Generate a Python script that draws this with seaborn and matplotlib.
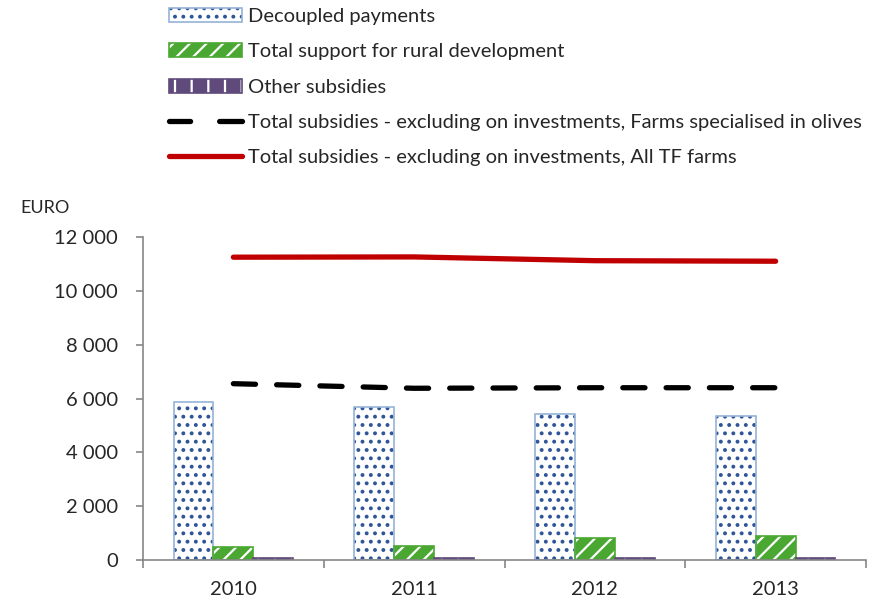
import numpy as np
import pandas as pd
import matplotlib
matplotlib.use("Agg")
import matplotlib.pyplot as plt
import seaborn as sns
from matplotlib.patches import Patch, Rectangle
from matplotlib.lines import Line2D
from matplotlib.ticker import FuncFormatter, FixedLocator

# donnees
years = ["2010", "2011", "2012", "2013"]
decoupled = [5870, 5690, 5430, 5350]
rural = [480, 530, 815, 890]
other = [60, 60, 60, 60]
olives_total = [6550, 6380, 6400, 6400]
all_tf_total = [11250, 11260, 11120, 11100]

bar_names = ["Decoupled payments", "Total support for rural development", "Other subsidies"]
line_names = ["Total subsidies - excluding on investments, Farms specialised in olives",
              "Total subsidies - excluding on investments, All TF farms"]

# style des barres : fond, bord, hachures, couleur hachures
bar_style = {
    "Decoupled payments": ("white", "#95b3d7", "..", "#2f5597"),
    "Total support for rural development": ("#4aa832", "#4aa832", "//", "white"),
    "Other subsidies": ("#604a7b", "#604a7b", "|", "white"),
}

sns.set_style("white")
plt.rcParams["font.family"] = ["Lato", "DejaVu Sans"]
plt.rcParams["hatch.linewidth"] = 1.6

fig = plt.figure(figsize=(8.88, 6.06), dpi=100)
ax = fig.add_axes([143 / 888, 1 - 560 / 606, (866 - 143) / 888, (560 - 237) / 606])

df = pd.DataFrame({
    "year": years * 3,
    "series": np.repeat(bar_names, len(years)),
    "value": decoupled + rural + other,
})
sns.barplot(data=df, x="year", y="value", hue="series", hue_order=bar_names,
            width=0.66, saturation=1, legend=False, ax=ax)

# hachures : couleur des hachures = couleur du bord, donc bord redessine par dessus
for cont, name in zip(ax.containers, bar_names):
    fc, ec, hatch, hc = bar_style[name]
    for p in cont:
        p.set_facecolor(fc)
        p.set_hatch(hatch)
        p.set_edgecolor(hc)
        p.set_linewidth(0)
        ax.add_patch(Rectangle(p.get_xy(), p.get_width(), p.get_height(),
                               fill=False, edgecolor=ec, lw=1.2, zorder=p.get_zorder() + 0.1))

x = np.arange(len(years))
sns.lineplot(x=x, y=olives_total, color="black", lw=3.8, ax=ax)
ax.lines[-1].set_linestyle((0, (4.2, 4.0)))
ax.lines[-1].set_dash_capstyle("round")
sns.lineplot(x=x, y=all_tf_total, color="#c00000", lw=3.8, ax=ax)
ax.lines[-1].set_solid_capstyle("round")

ax.set_xlim(-0.5, 3.5)
ax.set_ylim(0, 12000)
ax.set_yticks(np.arange(0, 12001, 2000))
ax.yaxis.set_major_formatter(FuncFormatter(lambda v, _: f"{int(v):,}".replace(",", " ")))
ax.xaxis.set_minor_locator(FixedLocator(np.arange(-0.5, 4, 1)))
ax.set_xlabel("")
ax.set_ylabel("")

for s in ["top", "right"]:
    ax.spines[s].set_visible(False)
for s in ["left", "bottom"]:
    ax.spines[s].set_color("#868686")
    ax.spines[s].set_linewidth(1.2)

ax.tick_params(axis="y", left=True, length=5, width=1.2, color="#868686", pad=13, labelsize=14.5)
ax.tick_params(axis="x", which="major", length=0, pad=15, labelsize=14.5)
ax.tick_params(axis="x", which="minor", bottom=True, length=6, width=1.2, color="#868686")

fig.text(20 / 888, 1 - 208 / 606, "EURO", fontsize=13, va="center")

# legende : motif + contour superposes
handles = []
for name in bar_names:
    fc, ec, hatch, hc = bar_style[name]
    handles.append((Patch(facecolor=fc, edgecolor=hc, hatch=hatch, lw=0),
                    Patch(facecolor="none", edgecolor=ec, lw=1.2)))
handles.append(Line2D([], [], color="black", lw=3.8, linestyle=(0.5, (4.5, 5.5)), dash_capstyle="round"))
handles.append(Line2D([], [], color="#c00000", lw=3.8, solid_capstyle="round"))

fig.legend(handles, bar_names + line_names, loc="upper left", bbox_to_anchor=(161 / 888, 1.0),
           frameon=False, fontsize=14.5, handlelength=3.6, handletextpad=0.3,
           labelspacing=0.9, borderaxespad=0, borderpad=0.4)

fig.savefig("out.png", dpi=100)
